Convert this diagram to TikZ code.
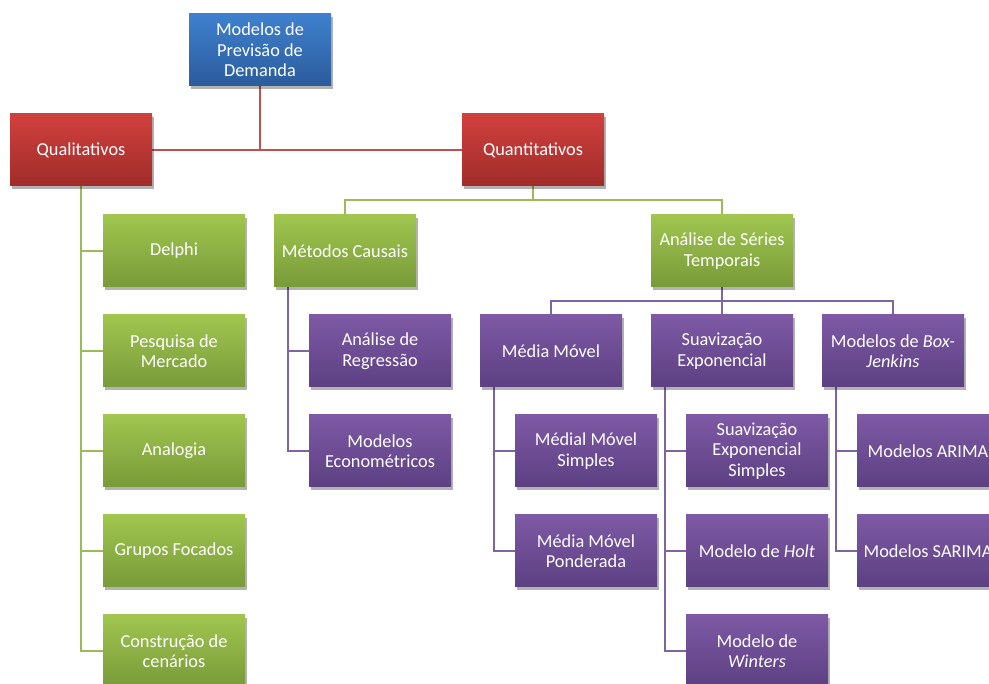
\documentclass[tikz,border=0pt]{standalone}
\usepackage{fontspec}
\setmainfont{Carlito}
\usetikzlibrary{shadows,backgrounds}
\definecolor{blueT}{HTML}{3F80CE}
\definecolor{blueB}{HTML}{2B5C9C}
\definecolor{redT}{HTML}{D0403D}
\definecolor{redB}{HTML}{A02C2A}
\definecolor{greenT}{HTML}{A0C64F}
\definecolor{greenB}{HTML}{789A39}
\definecolor{purT}{HTML}{7E59A6}
\definecolor{purB}{HTML}{5C4081}
\definecolor{redL}{HTML}{C0504D}
\definecolor{greenL}{HTML}{9BBB59}
\definecolor{purL}{HTML}{8064A2}
\tikzset{
  box/.style={rectangle, minimum width=142pt, minimum height=72pt, inner sep=0pt,
    align=center, text=white, font=\fontsize{18.3}{20.5}\selectfont,
    drop shadow={shadow xshift=2pt, shadow yshift=-3pt, opacity=0.3, fill=black}},
  bluebox/.style={box, top color=blueT, bottom color=blueB},
  redbox/.style={box, top color=redT, bottom color=redB},
  greenbox/.style={box, top color=greenT, bottom color=greenB},
  purbox/.style={box, top color=purT, bottom color=purB},
  redline/.style={draw=redL, line width=2pt},
  greenline/.style={draw=greenL, line width=2pt},
  purline/.style={draw=purL, line width=2pt},
}
\begin{document}
\begin{tikzpicture}[x=1pt, y=-1pt]
\useasboundingbox (0,0) rectangle (989,684);
\clip (0,0) rectangle (989,684);
% nodes
\node[bluebox] (root) at (260,50) {Modelos de\\Previsão de\\Demanda};
\node[redbox] (qual) at (81,150) {Qualitativos};
\node[redbox] (quant) at (533,150) {Quantitativos};
\node[greenbox] (delphi) at (174,251) {Delphi};
\node[greenbox] (pesq) at (174,351) {Pesquisa de\\Mercado};
\node[greenbox] (analog) at (174,451) {Analogia};
\node[greenbox] (grupos) at (174,551) {Grupos Focados};
\node[greenbox] (constr) at (174,651) {Construção de\\cenários};
\node[greenbox] (causais) at (345,251) {Métodos Causais};
\node[greenbox] (series) at (722,251) {Análise de Séries\\Temporais};
\node[purbox] (regr) at (380,351) {Análise de\\Regressão};
\node[purbox] (econ) at (380,451) {Modelos\\Econométricos};
\node[purbox] (mm) at (551,351) {Média Móvel};
\node[purbox] (suav) at (722,351) {Suavização\\Exponencial};
\node[purbox] (box) at (893,351) {Modelos de \textit{Box-}\\\textit{Jenkins}};
\node[purbox] (mms) at (586,451) {Médial Móvel\\Simples};
\node[purbox] (mmp) at (586,551) {Média Móvel\\Ponderada};
\node[purbox] (ses) at (757,451) {Suavização\\Exponencial\\Simples};
\node[purbox] (holt) at (757,551) {Modelo de \textit{Holt}};
\node[purbox] (winters) at (757,651) {Modelo de\\\textit{Winters}};
\node[purbox] (arima) at (928,451) {Modelos ARIMA};
\node[purbox] (sarima) at (928,551) {Modelos SARIMA};
% connectors
\begin{scope}[on background layer]
\draw[redline] (qual.east) -- (quant.west);
\draw[redline] (root.south) -- (root.south |- qual.east);
\draw[greenline] (quant.south) -- ++(0,14) -| (causais.north);
\draw[greenline] (quant.south) -- ++(0,14) -| (series.north);
\foreach \c in {delphi,pesq,analog,grupos,constr}
  \draw[greenline] (qual.south) |- (\c.west);
\foreach \c in {regr,econ}
  \draw[purline] (causais.south west) ++(14,0) |- (\c.west);
\foreach \c in {mm,suav,box}
  \draw[purline] (series.south) -- ++(0,14) -| (\c.north);
\foreach \c in {mms,mmp}
  \draw[purline] (mm.south west) ++(14,0) |- (\c.west);
\foreach \c in {ses,holt,winters}
  \draw[purline] (suav.south west) ++(14,0) |- (\c.west);
\foreach \c in {arima,sarima}
  \draw[purline] (box.south west) ++(14,0) |- (\c.west);
\end{scope}
\end{tikzpicture}
\end{document}
